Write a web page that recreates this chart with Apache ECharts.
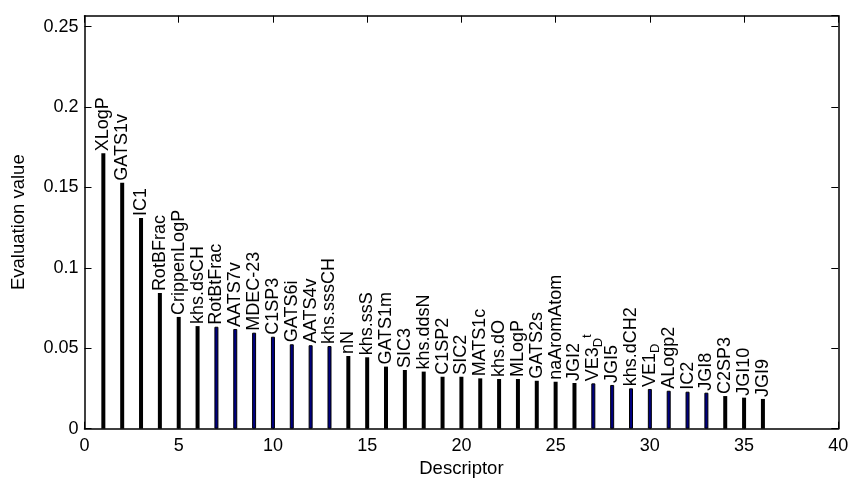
<!DOCTYPE html>
<html>
<head>
<meta charset="utf-8">
<script src="https://cdn.jsdelivr.net/npm/echarts@6/dist/echarts.min.js"></script>
<style>html,body{margin:0;padding:0;background:#fff}#c{width:850px;height:478px}</style>
</head>
<body>
<div id="c"></div>
<script>
var descriptors = ['XLogP','GATS1v','IC1','RotBFrac','CrippenLogP','khs.dsCH','RotBtFrac','AATS7v','MDEC-23','C1SP3','GATS6i','AATS4v','khs.sssCH','nN','khs.ssS','GATS1m','SIC3','khs.ddsN','C1SP2','SIC2','MATS1c','khs.dO','MLogP','GATS2s','naAromAtom','JGI2','VE3_D^t','JGI5','khs.dCH2','VE1_D','ALogp2','IC2','JGI8','C2SP3','JGI10','JGI9'];
var positions = [1,2,3,4,5,6,7,8,9,10,11,12,13,14,15,16,17,18,19,20,21,22,23,24,25,26,27,28,29,30,31,32,33,34,35,36];
var evaluation = [0.1712,0.153,0.131,0.0843,0.0695,0.0638,0.0634,0.0620,0.0597,0.0572,0.0525,0.0519,0.0514,0.0452,0.0444,0.0386,0.0365,0.0355,0.0323,0.0323,0.0313,0.0309,0.0309,0.0298,0.0292,0.0284,0.0282,0.0272,0.0251,0.0247,0.0236,0.0230,0.0224,0.0203,0.0193,0.0185];
var highlighted = [7,8,9,10,11,12,13,27,28,29,30,31,32,33];
var xTicks = [0,5,10,15,20,25,30,35,40];
var yTicks = [0,0.05,0.1,0.15,0.2,0.25];

var FONT = 'Liberation Sans, Arial, sans-serif';
var chart = echarts.init(document.getElementById('c'), null, {renderer:'canvas'});

function labelText(name){
  if (name.indexOf('_') >= 0) {
    var m = name.match(/^([^_]+)_([^\^]+)(?:\^(.+))?$/);
    var s = '{n|' + m[1] + '}{sub|' + m[2] + '}';
    if (m[3]) s += '{sup|' + m[3] + '}';
    return s;
  }
  return '{n|' + name + '}';
}

var data = positions.map(function(p, i){
  var hi = highlighted.indexOf(p) >= 0;
  return {
    value: [p, evaluation[i]],
    name: descriptors[i],
    itemStyle: hi ? {color:'#000080', borderColor:'#000', borderWidth:1} : {color:'#000', borderWidth:0}
  };
});

var tickStyle = {color:'#000', width:1};
var axisLineStyle = {color:'#000', width:1.5};
var option = {
  animation:false,
  grid:{left:84.5, right:11.7, top:15.7, bottom:49.3, containLabel:false, outerBoundsMode:'none'},
  xAxis:[{
    type:'value', min:xTicks[0], max:xTicks[xTicks.length-1], interval:5, position:'bottom',
    axisLine:{show:true, onZero:false, lineStyle:axisLineStyle},
    axisTick:{show:true, inside:true, length:7, lineStyle:tickStyle},
    axisLabel:{color:'#000', fontFamily:FONT, fontSize:18, margin:8},
    splitLine:{show:false},
    name:'Descriptor', nameLocation:'middle', nameGap:27,
    nameTextStyle:{color:'#000', fontFamily:FONT, fontSize:18.5}
  },{
    type:'value', min:xTicks[0], max:xTicks[xTicks.length-1], interval:5, position:'top',
    axisLine:{show:true, onZero:false, lineStyle:axisLineStyle},
    axisTick:{show:true, inside:true, length:7, lineStyle:tickStyle},
    axisLabel:{show:false}, splitLine:{show:false}
  }],
  yAxis:[{
    type:'value', min:yTicks[0], max:0.2568, interval:0.05, position:'left',
    axisLine:{show:true, onZero:false, lineStyle:axisLineStyle},
    axisTick:{show:true, inside:true, length:7, lineStyle:tickStyle},
    axisLabel:{color:'#000', fontFamily:FONT, fontSize:18, margin:6, showMaxLabel:false,
      formatter:function(v){ return String(Math.round(v*100)/100); }},
    splitLine:{show:false},
    name:'Evaluation value', nameLocation:'middle', nameGap:56,
    nameTextStyle:{color:'#000', fontFamily:FONT, fontSize:18.5}
  },{
    type:'value', min:yTicks[0], max:0.2568, interval:0.05, position:'right',
    axisLine:{show:true, onZero:false, lineStyle:axisLineStyle},
    axisTick:{show:true, inside:true, length:7, lineStyle:tickStyle},
    axisLabel:{show:false}, splitLine:{show:false}
  }],
  series:[{
    type:'bar', xAxisIndex:0, yAxisIndex:0, barWidth:4,
    data:data,
    label:{
      show:true, position:'top', rotate:90, align:'left', verticalAlign:'middle', distance:2,
      formatter:function(p){ return labelText(p.name); },
      rich:{
        n:{fontFamily:FONT, fontSize:18, color:'#000', lineHeight:24, verticalAlign:'middle'},
        sub:{fontFamily:FONT, fontSize:13, color:'#000', lineHeight:24, verticalAlign:'bottom'},
        sup:{fontFamily:FONT, fontSize:13, color:'#000', lineHeight:24, verticalAlign:'top'}
      }
    }
  }]
};
chart.setOption(option);
</script>
</body>
</html>
